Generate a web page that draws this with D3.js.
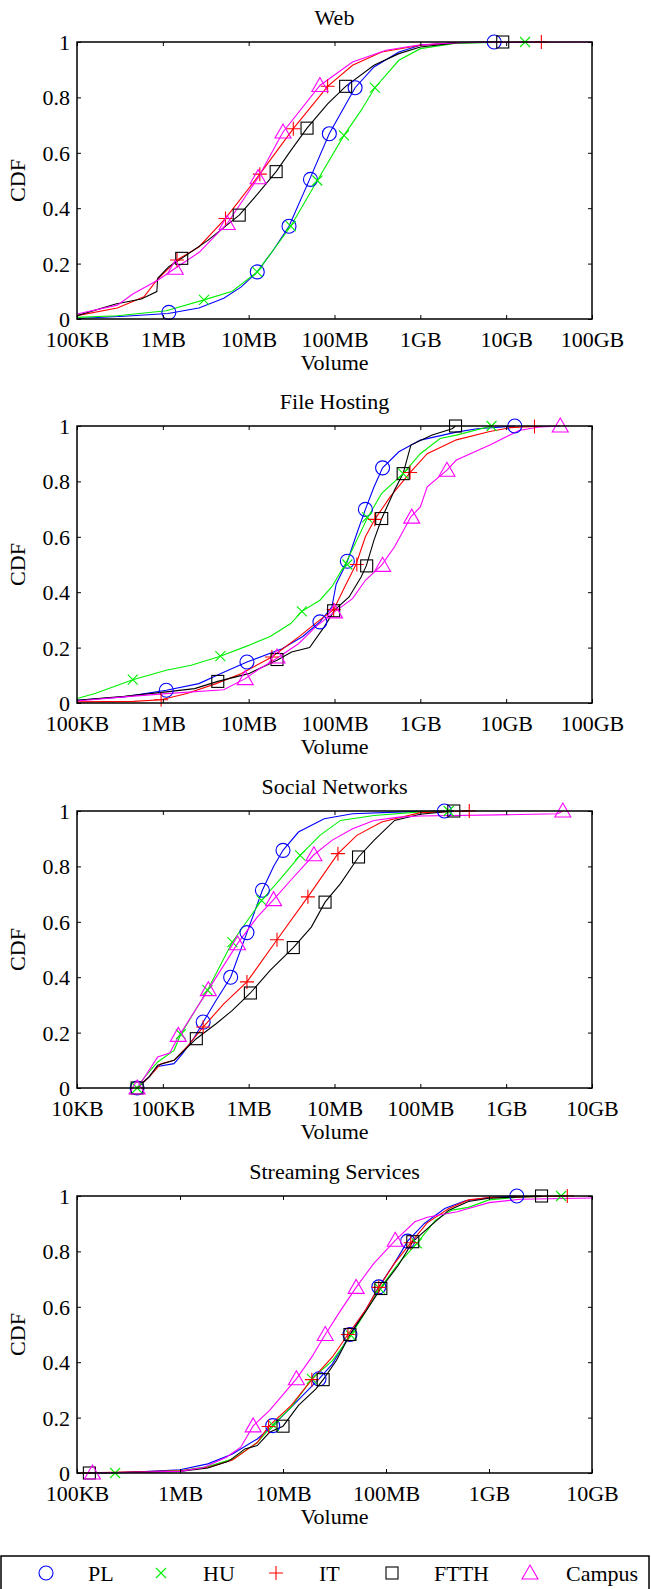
<!DOCTYPE html>
<html><head><meta charset="utf-8">
<script src="https://cdn.jsdelivr.net/npm/d3@7"></script>
<style>html,body{margin:0;padding:0;background:#fff}svg{display:block}text{font-family:"Liberation Serif","Times New Roman",serif;fill:#000}</style>
</head><body>
<svg id="chart" width="651" height="1589"></svg>
<script>
// ---- data (x values are log10 of volume in bytes) ----
const seriesNames = ["PL","HU","IT","FTTH","Campus"];
const seriesColors = ["#0000ff","#00f000","#ff0000","#000000","#ff00ff"];
const seriesMarkers = ["circle","x","plus","square","triangle"];
const yTicks = [0,0.2,0.4,0.6,0.8,1];
const yTickLabels = ["0","0.2","0.4","0.6","0.8","1"];
const panelTitles = ["Web","File Hosting","Social Networks","Streaming Services"];
const xTicksWeb = [5,6,7,8,9,10,11];
const xLabelsWeb = ["100KB","1MB","10MB","100MB","1GB","10GB","100GB"];
const xTicksFH = [5,6,7,8,9,10,11];
const xLabelsFH = ["100KB","1MB","10MB","100MB","1GB","10GB","100GB"];
const xTicksSN = [4,5,6,7,8,9,10];
const xLabelsSN = ["10KB","100KB","1MB","10MB","100MB","1GB","10GB"];
const xTicksST = [5,6,7,8,9,10];
const xLabelsST = ["100KB","1MB","10MB","100MB","1GB","10GB"];

// Web
const webPL = [[5.0,0.002],[5.55,0.01],[6.06,0.02],[6.42,0.04],[6.71,0.075],[6.91,0.115],[7.10,0.17],[7.29,0.25],[7.47,0.335],[7.71,0.504],[7.94,0.67],[8.24,0.835],[8.46,0.91],[8.75,0.964],[9.0,0.988],[9.42,0.998],[9.86,1.0]];
const webPLm = [[6.07,0.024],[7.10,0.17],[7.47,0.335],[7.72,0.504],[7.94,0.669],[8.24,0.835],[9.86,1.0]];
const webHU = [[5.0,0.006],[5.47,0.012],[6.04,0.03],[6.48,0.069],[6.81,0.10],[7.10,0.17],[7.29,0.25],[7.49,0.335],[7.80,0.50],[8.11,0.663],[8.31,0.753],[8.47,0.835],[8.75,0.934],[9.0,0.976],[9.42,0.996],[10.22,1.0]];
const webHUm = [[6.48,0.069],[7.10,0.17],[7.49,0.335],[7.80,0.50],[8.11,0.663],[8.47,0.835],[10.22,1.0]];
const webIT = [[5.0,0.012],[5.47,0.04],[5.78,0.08],[5.93,0.14],[6.165,0.213],[6.42,0.26],[6.73,0.363],[7.13,0.523],[7.52,0.687],[7.92,0.84],[8.21,0.916],[8.55,0.964],[9.0,0.988],[9.42,0.998],[10.41,1.0]];
const webITm = [[6.165,0.213],[6.73,0.363],[7.13,0.523],[7.52,0.687],[7.92,0.84],[10.41,1.0]];
const webFTTH = [[5.0,0.012],[5.45,0.054],[5.75,0.072],[5.93,0.099],[5.94,0.147],[6.07,0.189],[6.22,0.219],[6.52,0.283],[6.71,0.33],[6.89,0.375],[7.10,0.45],[7.32,0.532],[7.49,0.608],[7.68,0.689],[7.92,0.777],[8.13,0.84],[8.46,0.916],[8.75,0.958],[9.0,0.982],[9.42,0.997],[9.96,1.0]];
const webFTTHm = [[6.22,0.219],[6.89,0.375],[7.32,0.532],[7.68,0.689],[8.13,0.84],[9.96,1.0]];
const webCampus = [[5.0,0.018],[5.47,0.05],[5.65,0.09],[5.94,0.14],[6.145,0.183],[6.42,0.24],[6.75,0.345],[7.11,0.51],[7.40,0.675],[7.83,0.843],[8.21,0.928],[8.60,0.97],[9.0,0.99],[9.5,0.998],[11.2,1.0]];
const webCampusm = [[6.145,0.183],[6.75,0.345],[7.11,0.51],[7.40,0.675],[7.83,0.843]];

// File Hosting
const fhPL = [[5.0,0.01],[5.55,0.022],[6.04,0.046],[6.42,0.07],[6.67,0.106],[6.98,0.148],[7.39,0.196],[7.63,0.24],[7.83,0.293],[7.97,0.347],[8.02,0.43],[8.15,0.512],[8.26,0.612],[8.36,0.699],[8.46,0.78],[8.56,0.849],[8.75,0.907],[9.0,0.949],[9.42,0.978],[9.66,0.99],[10.1,1.0]];
const fhPLm = [[6.04,0.046],[6.98,0.148],[7.83,0.293],[8.15,0.512],[8.36,0.699],[8.56,0.849],[10.1,1.0]];
const fhHU = [[5.0,0.016],[5.21,0.034],[5.65,0.084],[6.04,0.118],[6.33,0.136],[6.67,0.169],[7.0,0.208],[7.25,0.24],[7.49,0.287],[7.62,0.331],[7.83,0.371],[7.97,0.42],[8.14,0.51],[8.26,0.588],[8.38,0.666],[8.55,0.757],[8.80,0.828],[9.0,0.90],[9.23,0.955],[9.42,0.967],[9.83,1.0]];
const fhHUm = [[5.65,0.084],[6.67,0.169],[7.62,0.331],[8.15,0.50],[8.38,0.67],[8.80,0.828],[9.83,1.0]];
const fhIT = [[5.0,0.004],[5.66,0.006],[5.98,0.012],[6.28,0.034],[6.62,0.07],[6.91,0.106],[7.27,0.166],[7.58,0.238],[7.83,0.30],[7.99,0.337],[8.12,0.42],[8.25,0.50],[8.36,0.60],[8.47,0.663],[8.65,0.745],[8.88,0.832],[9.08,0.90],[9.42,0.95],[9.81,0.98],[10.05,0.994],[10.33,0.998]];
const fhITm = [[5.98,0.012],[7.27,0.166],[7.99,0.337],[8.26,0.50],[8.47,0.663],[8.88,0.832],[10.33,0.998]];
const fhFTTH = [[5.0,0.01],[5.55,0.024],[6.04,0.04],[6.37,0.052],[6.64,0.078],[7.0,0.106],[7.33,0.154],[7.5,0.184],[7.71,0.20],[7.88,0.275],[8.0,0.335],[8.17,0.383],[8.31,0.455],[8.37,0.495],[8.46,0.588],[8.55,0.666],[8.70,0.769],[8.80,0.829],[8.89,0.931],[9.13,0.967],[9.37,0.99],[9.41,1.0]];
const fhFTTHm = [[6.64,0.078],[7.33,0.157],[7.99,0.333],[8.375,0.495],[8.55,0.666],[8.80,0.828],[9.41,1.0]];
const fhCampus = [[5.0,0.007],[5.55,0.022],[6.04,0.034],[6.71,0.048],[6.96,0.088],[7.10,0.118],[7.32,0.16],[7.58,0.214],[7.78,0.275],[8.0,0.329],[8.21,0.377],[8.36,0.443],[8.55,0.498],[8.70,0.564],[8.89,0.672],[9.0,0.708],[9.08,0.78],[9.31,0.841],[9.42,0.877],[9.81,0.931],[10.15,0.984],[10.4,0.997],[10.63,1.0]];
const fhCampusm = [[6.96,0.088],[7.33,0.166],[8.0,0.329],[8.56,0.497],[8.90,0.671],[9.31,0.84],[10.63,1.0]];

// Social Networks
const snPL = [[4.70,0],[4.84,0.04],[4.94,0.078],[5.13,0.088],[5.23,0.124],[5.37,0.184],[5.47,0.238],[5.62,0.316],[5.79,0.40],[5.98,0.561],[6.16,0.714],[6.29,0.80],[6.40,0.858],[6.58,0.924],[6.88,0.972],[7.21,0.99],[7.8,0.997],[8.28,1.0]];
const snPLm = [[4.70,0],[5.47,0.238],[5.79,0.40],[5.98,0.561],[6.16,0.714],[6.40,0.858],[8.28,1.0]];
const snHU = [[4.70,0],[4.79,0.04],[4.94,0.094],[5.13,0.136],[5.21,0.194],[5.52,0.353],[5.81,0.527],[6.15,0.677],[6.39,0.762],[6.60,0.84],[6.83,0.912],[7.07,0.966],[7.46,0.984],[8.0,0.997],[8.33,1.0]];
const snHUm = [[4.70,0],[5.21,0.194],[5.52,0.353],[5.81,0.527],[6.15,0.677],[6.60,0.84],[8.33,1.0]];
const snIT = [[4.70,0],[4.84,0.04],[4.98,0.088],[5.13,0.10],[5.28,0.148],[5.47,0.22],[5.71,0.304],[5.98,0.383],[6.33,0.535],[6.69,0.69],[7.04,0.846],[7.26,0.912],[7.55,0.96],[8.0,0.994],[8.57,1.0]];
const snITm = [[5.47,0.22],[5.98,0.383],[6.33,0.535],[6.69,0.69],[7.04,0.846],[8.57,1.0]];
const snFTTH = [[4.70,0],[4.84,0.04],[4.94,0.082],[5.13,0.10],[5.23,0.13],[5.39,0.178],[5.62,0.232],[5.81,0.28],[6.02,0.343],[6.25,0.425],[6.52,0.507],[6.73,0.581],[6.89,0.671],[7.07,0.738],[7.28,0.834],[7.46,0.894],[7.70,0.966],[8.0,0.988],[8.39,1.0]];
const snFTTHm = [[4.70,0],[5.39,0.178],[6.02,0.343],[6.52,0.507],[6.89,0.671],[7.28,0.834],[8.39,1.0]];
const snCampus = [[4.70,0],[4.79,0.04],[4.94,0.112],[5.08,0.126],[5.18,0.184],[5.53,0.355],[5.87,0.521],[6.10,0.617],[6.29,0.68],[6.49,0.75],[6.76,0.842],[6.97,0.894],[7.21,0.936],[7.46,0.966],[7.75,0.978],[8.0,0.982],[8.9,0.986],[9.6,0.99],[9.66,1.0]];
const snCampusm = [[4.70,0],[5.18,0.19],[5.53,0.355],[5.87,0.521],[6.29,0.68],[6.76,0.842],[9.66,1.0]];

// Streaming Services
const stPL = [[5.0,0],[5.46,0.002],[6.0,0.012],[6.27,0.033],[6.51,0.069],[6.75,0.123],[6.90,0.171],[7.08,0.238],[7.24,0.298],[7.35,0.34],[7.48,0.394],[7.65,0.50],[7.80,0.587],[7.93,0.672],[8.08,0.756],[8.21,0.837],[8.37,0.90],[8.57,0.955],[8.77,0.983],[9.0,0.994],[9.27,1.0]];
const stPLm = [[6.90,0.171],[7.35,0.34],[7.65,0.50],[7.93,0.672],[8.21,0.837],[9.27,1.0]];
const stHU = [[5.0,0],[5.37,0.0],[6.0,0.008],[6.27,0.023],[6.51,0.05],[6.75,0.11],[6.91,0.177],[7.08,0.238],[7.28,0.34],[7.48,0.406],[7.66,0.497],[7.80,0.581],[7.94,0.666],[8.12,0.756],[8.30,0.829],[8.48,0.913],[8.64,0.949],[8.80,0.959],[9.0,0.986],[9.3,0.996],[9.70,1.0]];
const stHUm = [[5.37,0],[6.91,0.17],[7.28,0.34],[7.66,0.497],[7.94,0.666],[8.30,0.829],[9.70,1.0]];
const stIT = [[5.0,0],[6.0,0.008],[6.27,0.02],[6.51,0.047],[6.75,0.11],[6.86,0.168],[7.08,0.244],[7.28,0.337],[7.48,0.419],[7.63,0.50],[7.80,0.587],[7.93,0.67],[8.08,0.756],[8.24,0.831],[8.40,0.903],[8.61,0.955],[8.80,0.986],[9.0,0.994],[9.76,1.0]];
const stITm = [[6.86,0.168],[7.28,0.337],[7.63,0.50],[7.93,0.67],[8.24,0.831],[9.76,1.0]];
const stFTTH = [[5.12,0],[6.0,0.006],[6.27,0.018],[6.47,0.042],[6.63,0.087],[6.75,0.099],[6.87,0.147],[7.0,0.169],[7.15,0.244],[7.32,0.304],[7.39,0.337],[7.52,0.407],[7.65,0.50],[7.80,0.581],[7.95,0.666],[8.12,0.75],[8.26,0.835],[8.44,0.895],[8.61,0.949],[8.80,0.98],[9.0,0.992],[9.51,1.0]];
const stFTTHm = [[5.12,0],[7.0,0.169],[7.39,0.337],[7.65,0.50],[7.95,0.666],[8.26,0.835],[9.51,1.0]];
const stCampus = [[5.15,0],[6.0,0.006],[6.23,0.02],[6.45,0.057],[6.59,0.093],[6.71,0.17],[6.87,0.226],[7.13,0.34],[7.28,0.419],[7.41,0.50],[7.56,0.587],[7.71,0.67],[7.88,0.756],[8.09,0.84],[8.28,0.907],[8.40,0.923],[8.69,0.943],[9.0,0.976],[9.3,0.988],[10.2,0.994]];
const stCampusm = [[5.15,0],[6.71,0.17],[7.13,0.34],[7.41,0.50],[7.71,0.67],[8.09,0.84]];

// ---- panels built from the arrays ----
const panels = [
  {title: panelTitles[0], ticks: xTicksWeb, labels: xLabelsWeb, lines: [webPL,webHU,webIT,webFTTH,webCampus], marks: [webPLm,webHUm,webITm,webFTTHm,webCampusm]},
  {title: panelTitles[1], ticks: xTicksFH, labels: xLabelsFH, lines: [fhPL,fhHU,fhIT,fhFTTH,fhCampus], marks: [fhPLm,fhHUm,fhITm,fhFTTHm,fhCampusm]},
  {title: panelTitles[2], ticks: xTicksSN, labels: xLabelsSN, lines: [snPL,snHU,snIT,snFTTH,snCampus], marks: [snPLm,snHUm,snITm,snFTTHm,snCampusm]},
  {title: panelTitles[3], ticks: xTicksST, labels: xLabelsST, lines: [stPL,stHU,stIT,stFTTH,stCampus], marks: [stPLm,stHUm,stITm,stFTTHm,stCampusm]}
];

const svg = d3.select("#chart");
const left = 77, right = 592, ph = 277;
const tops = [42, 426, 811, 1196];
const FS = 22;

function drawMarker(g, type, color, x, y) {
  const s = g.append("g").attr("stroke", color).attr("fill", "none").attr("stroke-width", 1.1);
  if (type === "circle") s.append("circle").attr("cx", x).attr("cy", y).attr("r", 7);
  else if (type === "x") { const h = 5; s.append("path").attr("d", `M${x-h},${y-h}L${x+h},${y+h}M${x-h},${y+h}L${x+h},${y-h}`); }
  else if (type === "plus") { const h = 7; s.append("path").attr("d", `M${x-h},${y}L${x+h},${y}M${x},${y-h}L${x},${y+h}`); }
  else if (type === "square") { const h = 6; s.append("rect").attr("x", x-h).attr("y", y-h).attr("width", 2*h).attr("height", 2*h); }
  else if (type === "triangle") { const w = 8, t = 8, b = 6; s.append("path").attr("d", `M${x},${y-t}L${x+w},${y+b}L${x-w},${y+b}Z`); }
}

panels.forEach((p, pi) => {
  const top = tops[pi], bottom = top + ph;
  const dom = [Math.pow(10, p.ticks[0]), Math.pow(10, p.ticks[p.ticks.length-1])];
  const x = d3.scaleLog().domain(dom).range([left, right]);
  const y = d3.scaleLinear().domain([0, 1]).range([bottom, top]);
  const g = svg.append("g");
  const cid = "clip" + pi;
  svg.append("clipPath").attr("id", cid).append("rect").attr("x", left).attr("y", top - 10).attr("width", right - left).attr("height", ph + 20);

  // title
  g.append("text").attr("x", (left + right) / 2).attr("y", top - 25).attr("text-anchor", "middle")
    .attr("dominant-baseline", "central").attr("font-size", FS).text(p.title);

  // lines
  const line = d3.line().x(d => x(Math.pow(10, d[0]))).y(d => y(d[1]));
  const lg = g.append("g").attr("clip-path", `url(#${cid})`);
  p.lines.forEach((arr, si) => {
    lg.append("path").datum(arr).attr("d", line).attr("fill", "none")
      .attr("stroke", seriesColors[si]).attr("stroke-width", 1.1);
  });
  // markers
  const mg = g.append("g").attr("clip-path", `url(#${cid})`);
  p.marks.forEach((arr, si) => {
    arr.forEach(d => drawMarker(mg, seriesMarkers[si], seriesColors[si], x(Math.pow(10, d[0])), y(d[1])));
  });

  // axes (ticks inside, mirrored)
  const tv = p.ticks.map(t => Math.pow(10, t));
  const fmt = (d, i) => p.labels[i];
  const axB = g.append("g").attr("transform", `translate(0,${bottom})`)
    .call(d3.axisBottom(x).tickValues(tv).tickFormat(fmt).tickSizeInner(-4).tickSizeOuter(0).tickPadding(12));
  const axT = g.append("g").attr("transform", `translate(0,${top})`)
    .call(d3.axisTop(x).tickValues(tv).tickFormat("").tickSizeInner(-4).tickSizeOuter(0));
  const axL = g.append("g").attr("transform", `translate(${left},0)`)
    .call(d3.axisLeft(y).tickValues(yTicks).tickFormat((d, i) => yTickLabels[i]).tickSizeInner(-4).tickSizeOuter(0).tickPadding(8));
  const axR = g.append("g").attr("transform", `translate(${right},0)`)
    .call(d3.axisRight(y).tickValues(yTicks).tickFormat("").tickSizeInner(-4).tickSizeOuter(0));
  [axB, axT, axL, axR].forEach(a => {
    a.select(".domain").remove();
    a.selectAll(".tick line").attr("stroke", "#000").attr("stroke-width", 1);
    a.selectAll("text").attr("font-size", FS).attr("font-family", '"Liberation Serif","Times New Roman",serif').attr("fill", "#000");
  });
  axB.selectAll("text").attr("dy", null).attr("y", 20).attr("dominant-baseline", "central");
  axL.selectAll("text").attr("dy", null).attr("dominant-baseline", "central").attr("x", -7);

  // frame
  g.append("rect").attr("x", left).attr("y", top).attr("width", right - left).attr("height", ph)
    .attr("fill", "none").attr("stroke", "#000").attr("stroke-width", 1.5);

  // axis titles
  g.append("text").attr("x", (left + right) / 2).attr("y", bottom + 43).attr("text-anchor", "middle")
    .attr("dominant-baseline", "central").attr("font-size", FS).text("Volume");
  g.append("text").attr("transform", `translate(17,${(top + bottom) / 2}) rotate(-90)`).attr("text-anchor", "middle")
    .attr("dominant-baseline", "central").attr("font-size", FS).text("CDF");
});

// legend
const legX = [46, 161, 276, 392, 530];
const legTX = [88, 203, 319, 434, 566];
const lg = svg.append("g");
lg.append("rect").attr("x", 1).attr("y", 1556).attr("width", 648).attr("height", 60)
  .attr("fill", "none").attr("stroke", "#000").attr("stroke-width", 1.5);
seriesNames.forEach((n, i) => {
  drawMarker(lg, seriesMarkers[i], seriesColors[i], legX[i], 1573);
  lg.append("text").attr("x", legTX[i]).attr("y", 1573).attr("dominant-baseline", "central")
    .attr("font-size", FS).text(n);
});
</script>
</body></html>
